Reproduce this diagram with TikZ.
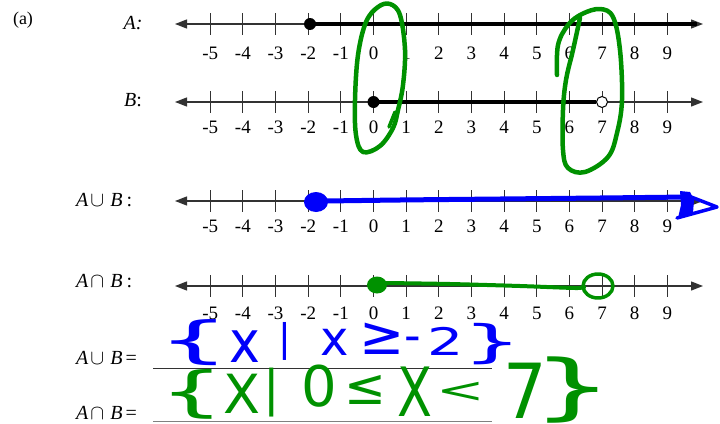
\documentclass[tikz,border=0pt]{standalone}
\usepackage{fontspec}
\setmainfont{Liberation Serif}
\newfontfamily\handfont{DejaVu Sans}
\usetikzlibrary{arrows.meta}
\definecolor{penblue}{RGB}{0,0,250}
\definecolor{pengreen}{RGB}{0,145,0}
\definecolor{axisgray}{RGB}{50,50,50}
\begin{document}
\begin{tikzpicture}[x=1pt,y=-1pt,
  axis/.style={draw=axisgray, line width=1.3pt, {Triangle[length=12pt,width=9pt]}-{Triangle[length=12pt,width=9pt]}},
  tickmark/.style={draw=axisgray, line width=1.1pt},
  ticklbl/.style={font=\fontsize{19}{19}\selectfont, inner sep=0pt},
  lbl/.style={font=\fontsize{20}{20}\selectfont, inner sep=0pt},
  ink/.style={line width=4.5pt, line cap=round, line join=round},
  hw/.style={inner sep=0pt, anchor=base},
  hwb/.style={hw, text=penblue},
  hwg/.style={hw, text=pengreen}
]
\useasboundingbox (0,0) rectangle (720,423);

% number lines
\foreach \r/\yy/\ly in {A/24/53, B/102/127, U/201/226.5, I/286/313}{
  \coordinate (\r L) at (175,\yy);
  \coordinate (\r R) at (703,\yy);
  \draw[axis] (\r L) -- (\r R);
  \foreach \n in {-5,...,9}{
    \draw[tickmark] ({373.5+32.65*(\n)},{\yy-11}) -- ++(0,22);
    \node[ticklbl] (\r t\n) at ({373.5+32.65*(\n)},\ly) {\n};
  }
}

% row labels
\node[lbl, font=\fontsize{18}{18}\selectfont] (parta) at (23,20) {(a)};
\node[lbl] (labA) at (133,23) {\textit{A:}};
\node[lbl] (labB) at (133,100) {\textit{B}:};
\node[lbl, anchor=west] (labU) at (76,200) {\textit{A}\hspace{2pt}$\cup$\hspace{6pt}\textit{B}\hspace{4pt}:};
\node[lbl, anchor=west] (labI) at (76,281) {\textit{A}\hspace{2pt}$\cap$\hspace{6pt}\textit{B}\hspace{4pt}:};
\node[lbl, anchor=west] (eqU) at (76,358) {\textit{A}\hspace{2pt}$\cup$\hspace{6pt}\textit{B}\hspace{3pt}=};
\node[lbl, anchor=west] (eqI) at (76,413) {\textit{A}\hspace{2pt}$\cap$\hspace{6pt}\textit{B}\hspace{3pt}=};
\coordinate (ulU1) at (153,368); \coordinate (ulU2) at (492,368);
\coordinate (ulI1) at (153,421); \coordinate (ulI2) at (492,421);
\draw[axisgray, line width=1pt] (ulU1) -- (ulU2);
\draw[gray, line width=1pt] (ulI1) -- (ulI2);

% printed set A
\coordinate (Adot) at (310,24);
\draw[black, line width=4.2pt] (Adot) -- (697,24);
\fill[black] (Adot) circle[radius=6];
% printed set B
\coordinate (Bdot) at (373.5,102);
\coordinate (Bopen) at (602,102);
\draw[black, line width=3.5pt] (Bdot) -- (596,102);
\fill[black] (Bdot) circle[radius=6];
\draw[black, line width=1pt, fill=white] (Bopen) circle[radius=5.5];

% green loops
\draw[ink, pengreen] plot[smooth cycle, tension=0.6] coordinates {(393,128) (380,146) (363,152) (356,135) (355,100) (358,55) (366,22) (378,7) (390,4) (400,15) (405,50) (403,85) (398,110)};
\draw[ink, pengreen, line width=3.5pt] (389,127) -- (395,112);
\draw[ink, pengreen] plot[smooth, tension=0.6] coordinates {(557,75) (558,45) (568,25) (582,14) (600,9) (613,17) (620,50) (622,100) (617,133) (608,157) (585,172) (568,168) (563,150) (563,110) (566,80) (573,50) (580,18)};

% blue union
\fill[penblue] (316,202) ellipse[x radius=12, y radius=10];
\draw[ink, penblue, line width=5pt] plot[smooth] coordinates {(326,201) (400,200) (500,199) (600,198) (688,197)};
\fill[penblue] (680,191) -- (690,192) -- (694,200) -- (693,213) -- (678,218) -- (681,205) -- cycle;
\draw[ink, penblue, line width=3.5pt] (686,195) -- (717,207) -- (677,218);

% green intersection
\fill[pengreen] (377,285) ellipse[x radius=10, y radius=8.5];
\draw[ink, pengreen, line width=4pt] plot[smooth] coordinates {(386,283) (450,284) (520,286) (575,288) (584,287)};
\draw[ink, pengreen, line width=3.5pt] (598,286) ellipse[x radius=15, y radius=12];

% handwritten set notation (blue)
\node[hwb, font=\handfont\fontsize{50}{50}\selectfont, xscale=2.3] (b1) at (194,357) {\{};
\node[hwb, font=\handfont\fontsize{58}{58}\selectfont, xscale=0.9] (b2) at (245,362) {x};
\node[hwb, font=\handfont\fontsize{38}{38}\selectfont] (b3) at (285,351) {|};
\node[hwb, font=\handfont\fontsize{48}{48}\selectfont] (b4) at (335,355) {x};
\node[hwb, font=\handfont\fontsize{54}{54}\selectfont] (b5) at (382,354) {≥};
\node[hwb, font=\handfont\fontsize{46}{46}\selectfont] (b6) at (413,351) {-};
\node[hwb, font=\handfont\fontsize{38}{38}\selectfont, xscale=1.5] (b7) at (446,355) {2};
\node[hwb, font=\handfont\fontsize{45}{45}\selectfont, xscale=2.1] (b8) at (493,357.5) {\}};

% handwritten set notation (green)
\node[hwg, font=\handfont\fontsize{54}{54}\selectfont, xscale=1.9] (g1) at (192,410) {\{};
\node[hwg, font=\handfont\fontsize{54}{54}\selectfont] (g2) at (242,413) {X};
\node[hwg, font=\handfont\fontsize{49}{49}\selectfont] (g3) at (272,405) {|};
\node[hwg, font=\handfont\fontsize{56}{56}\selectfont] (g4) at (319,406) {0};
\node[hwg, font=\handfont\fontsize{50}{50}\selectfont] (g5) at (365,404) {≤};
\node[hwg, font=\handfont\fontsize{68}{68}\selectfont, xscale=0.75] (g6) at (415,416) {X};
\node[hwg, font=\handfont\fontsize{58}{58}\selectfont, yscale=0.6] (g7) at (461,402) {<};
\node[hwg, font=\handfont\fontsize{76}{76}\selectfont, xscale=0.9] (g8) at (525,418) {7};
\node[hwg, font=\handfont\fontsize{72}{72}\selectfont, xscale=1.8] (g9) at (573,411) {\}};
\end{tikzpicture}
\end{document}
